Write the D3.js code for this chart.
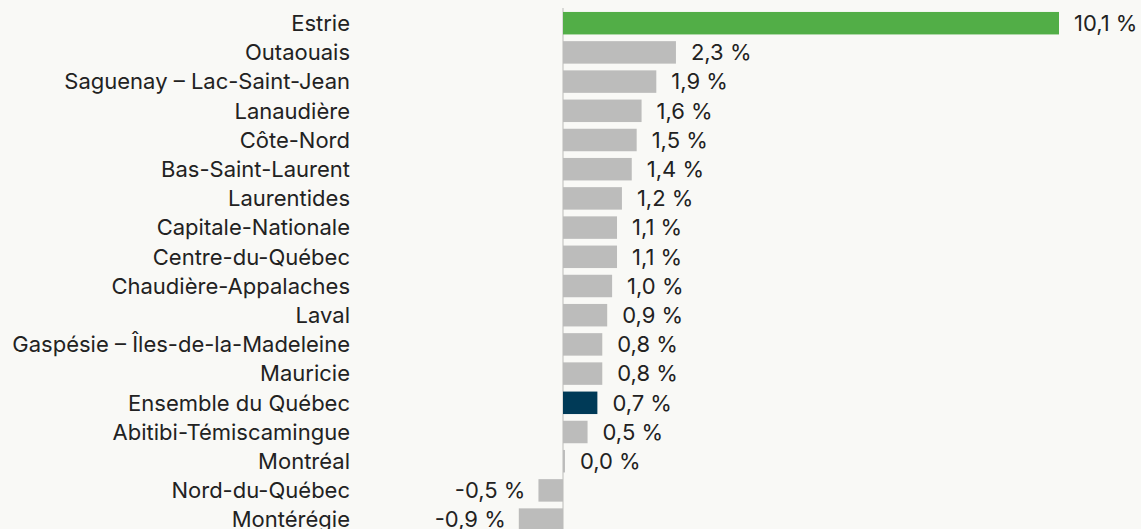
<!DOCTYPE html>
<html>
<head>
<meta charset="utf-8">
<script src="https://cdn.jsdelivr.net/npm/d3@7"></script>
<style>
  html, body { margin: 0; padding: 0; background: #f9f9f6; overflow: hidden; }
  #chart { width: 1141px; height: 529px; }
  text { font-family: Inter, "Noto Sans", sans-serif; fill: #222; }
</style>
</head>
<body>
<div id="chart"></div>
<script>
(function () {

    // --- data ---
    const regions = [
        "Estrie", "Outaouais", "Saguenay – Lac-Saint-Jean", "Lanaudière", "Côte-Nord",
        "Bas-Saint-Laurent", "Laurentides", "Capitale-Nationale", "Centre-du-Québec",
        "Chaudière-Appalaches", "Laval", "Gaspésie – Îles-de-la-Madeleine", "Mauricie",
        "Ensemble du Québec", "Abitibi-Témiscamingue", "Montréal", "Nord-du-Québec", "Montérégie"
    ];
    const values = [10.1, 2.3, 1.9, 1.6, 1.5, 1.4, 1.2, 1.1, 1.1, 1.0, 0.9, 0.8, 0.8, 0.7, 0.5, 0.04, -0.5, -0.9];
    const highlight = { "Estrie": "#52ae47", "Ensemble du Québec": "#003a57" };

    const width = 1141, height = 529;
    // French decimal comma, plain hyphen for negatives
    const fmt = v => v.toFixed(1).replace(".", ",") + " %";

    const svg = d3.select("#chart").append("svg")
        .attr("width", width)
        .attr("height", height);

    // scales
    const x = d3.scaleLinear().domain([0, 10.1]).range([563, 1059]);
    const step = 29.2;
    const y = d3.scaleBand()
        .domain(regions)
        .range([8.6, 8.6 + step * regions.length])
        .paddingInner(0.23)
        .paddingOuter(0.115);

    // zero line
    svg.append("line")
        .attr("x1", x(0)).attr("x2", x(0))
        .attr("y1", 8).attr("y2", height)
        .attr("stroke", "#cfcfcc")
        .attr("stroke-width", 1.5);

    // bars
    svg.append("g").selectAll("rect")
        .data(regions)
        .join("rect")
        .attr("x", (d, i) => x(Math.min(0, values[i])))
        .attr("y", d => y(d))
        .attr("width", (d, i) => Math.abs(x(values[i]) - x(0)))
        .attr("height", y.bandwidth())
        .attr("fill", d => highlight[d] || "#bcbcbb");

    // category labels
    svg.append("g").selectAll("text")
        .data(regions)
        .join("text")
        .attr("x", 350)
        .attr("y", d => y(d) + y.bandwidth() / 2)
        .attr("dy", "0.35em")
        .attr("text-anchor", "end")
        .style("font-size", "22px")
        .text(d => d);

    // value labels
    svg.append("g").selectAll("text")
        .data(regions)
        .join("text")
        .attr("x", (d, i) => values[i] < 0 ? x(values[i]) - 13 : x(values[i]) + 15)
        .attr("y", d => y(d) + y.bandwidth() / 2)
        .attr("dy", "0.35em")
        .attr("text-anchor", (d, i) => values[i] < 0 ? "end" : "start")
        .style("font-size", "22px")
        .text((d, i) => fmt(values[i]));
})();
</script>
</body>
</html>
